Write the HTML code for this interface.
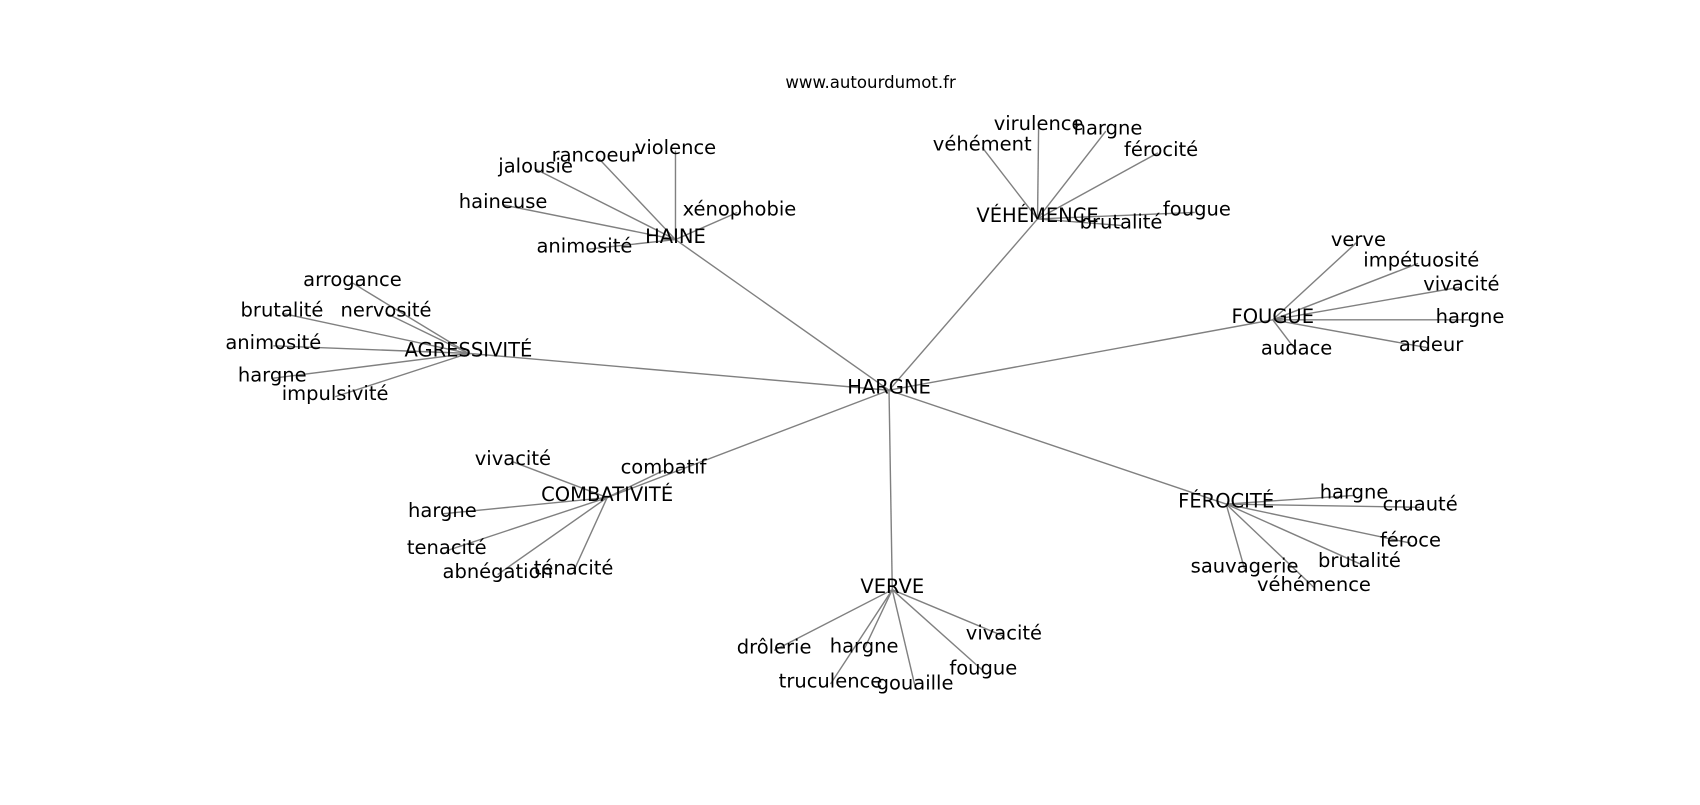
<!DOCTYPE html>
<html><head><meta charset="utf-8"><style>
html,body{margin:0;padding:0;background:#fff;}
svg text{font-family:"DejaVu Sans","Liberation Sans",sans-serif;font-size:18px;fill:#000;text-anchor:middle;dominant-baseline:central;}
</style></head><body>
<svg width="1700" height="800" viewBox="0 0 1568 738" xmlns="http://www.w3.org/2000/svg">
<g stroke="#808080" stroke-width="1.3" fill="none">
<line x1="820" y1="360" x2="623" y2="221"/>
<line x1="820" y1="360" x2="957" y2="202"/>
<line x1="820" y1="360" x2="1174" y2="295"/>
<line x1="820" y1="360" x2="432" y2="326"/>
<line x1="820" y1="360" x2="560" y2="459"/>
<line x1="820" y1="360" x2="1131" y2="465"/>
<line x1="820" y1="360" x2="823" y2="544"/>
<line x1="623" y1="221" x2="623" y2="139"/>
<line x1="623" y1="221" x2="552" y2="146"/>
<line x1="623" y1="221" x2="494" y2="156"/>
<line x1="623" y1="221" x2="464" y2="189"/>
<line x1="623" y1="221" x2="680" y2="196"/>
<line x1="623" y1="221" x2="541" y2="230"/>
<line x1="957" y1="202" x2="958" y2="117"/>
<line x1="957" y1="202" x2="1020" y2="121"/>
<line x1="957" y1="202" x2="906" y2="136"/>
<line x1="957" y1="202" x2="1068" y2="141"/>
<line x1="957" y1="202" x2="1102" y2="196"/>
<line x1="957" y1="202" x2="1034" y2="208"/>
<line x1="1174" y1="295" x2="1251" y2="224"/>
<line x1="1174" y1="295" x2="1308" y2="243"/>
<line x1="1174" y1="295" x2="1346" y2="265"/>
<line x1="1174" y1="295" x2="1356" y2="295"/>
<line x1="1174" y1="295" x2="1318" y2="321"/>
<line x1="1174" y1="295" x2="1196" y2="324"/>
<line x1="432" y1="326" x2="325" y2="261"/>
<line x1="432" y1="326" x2="260" y2="289"/>
<line x1="432" y1="326" x2="356" y2="289"/>
<line x1="432" y1="326" x2="252" y2="319"/>
<line x1="432" y1="326" x2="251" y2="349"/>
<line x1="432" y1="326" x2="309" y2="366"/>
<line x1="560" y1="459" x2="612" y2="434"/>
<line x1="560" y1="459" x2="473" y2="426"/>
<line x1="560" y1="459" x2="408" y2="474"/>
<line x1="560" y1="459" x2="412" y2="508"/>
<line x1="560" y1="459" x2="459" y2="530"/>
<line x1="560" y1="459" x2="529" y2="527"/>
<line x1="1131" y1="465" x2="1249" y2="457"/>
<line x1="1131" y1="465" x2="1310" y2="468"/>
<line x1="1131" y1="465" x2="1301" y2="501"/>
<line x1="1131" y1="465" x2="1254" y2="520"/>
<line x1="1131" y1="465" x2="1148" y2="525"/>
<line x1="1131" y1="465" x2="1212" y2="542"/>
<line x1="823" y1="544" x2="926" y2="587"/>
<line x1="823" y1="544" x2="714" y2="600"/>
<line x1="823" y1="544" x2="797" y2="599"/>
<line x1="823" y1="544" x2="907" y2="619"/>
<line x1="823" y1="544" x2="766" y2="631"/>
<line x1="823" y1="544" x2="844" y2="633"/>
</g>
<text x="803" y="76" style="font-size:15.3px">www.autourdumot.fr</text>
<text x="820" y="357">HARGNE</text>
<text x="623" y="218">HAINE</text>
<text x="623" y="136">violence</text>
<text x="549" y="143">rancoeur</text>
<text x="494" y="153">jalousie</text>
<text x="464" y="186">haineuse</text>
<text x="682" y="193">xénophobie</text>
<text x="539" y="227">animosité</text>
<text x="957" y="199">VÉHÉMENCE</text>
<text x="958" y="114">virulence</text>
<text x="1022" y="118">hargne</text>
<text x="906" y="133">véhément</text>
<text x="1071" y="138">férocité</text>
<text x="1104" y="193">fougue</text>
<text x="1034" y="205">brutalité</text>
<text x="1174" y="292">FOUGUE</text>
<text x="1253" y="221">verve</text>
<text x="1311" y="240">impétuosité</text>
<text x="1348" y="262">vivacité</text>
<text x="1356" y="292">hargne</text>
<text x="1320" y="318">ardeur</text>
<text x="1196" y="321">audace</text>
<text x="432" y="323">AGRESSIVITÉ</text>
<text x="325" y="258">arrogance</text>
<text x="260" y="286">brutalité</text>
<text x="356" y="286">nervosité</text>
<text x="252" y="316">animosité</text>
<text x="251" y="346">hargne</text>
<text x="309" y="363">impulsivité</text>
<text x="560" y="456">COMBATIVITÉ</text>
<text x="612" y="431">combatif</text>
<text x="473" y="423">vivacité</text>
<text x="408" y="471">hargne</text>
<text x="412" y="505">tenacité</text>
<text x="459" y="527">abnégation</text>
<text x="529" y="524">ténacité</text>
<text x="1131" y="462">FÉROCITÉ</text>
<text x="1249" y="454">hargne</text>
<text x="1310" y="465">cruauté</text>
<text x="1301" y="498">féroce</text>
<text x="1254" y="517">brutalité</text>
<text x="1148" y="522">sauvagerie</text>
<text x="1212" y="539">véhémence</text>
<text x="823" y="541">VERVE</text>
<text x="926" y="584">vivacité</text>
<text x="714" y="597">drôlerie</text>
<text x="797" y="596">hargne</text>
<text x="907" y="616">fougue</text>
<text x="766" y="628">truculence</text>
<text x="844" y="630">gouaille</text>
</svg>
</body></html>
